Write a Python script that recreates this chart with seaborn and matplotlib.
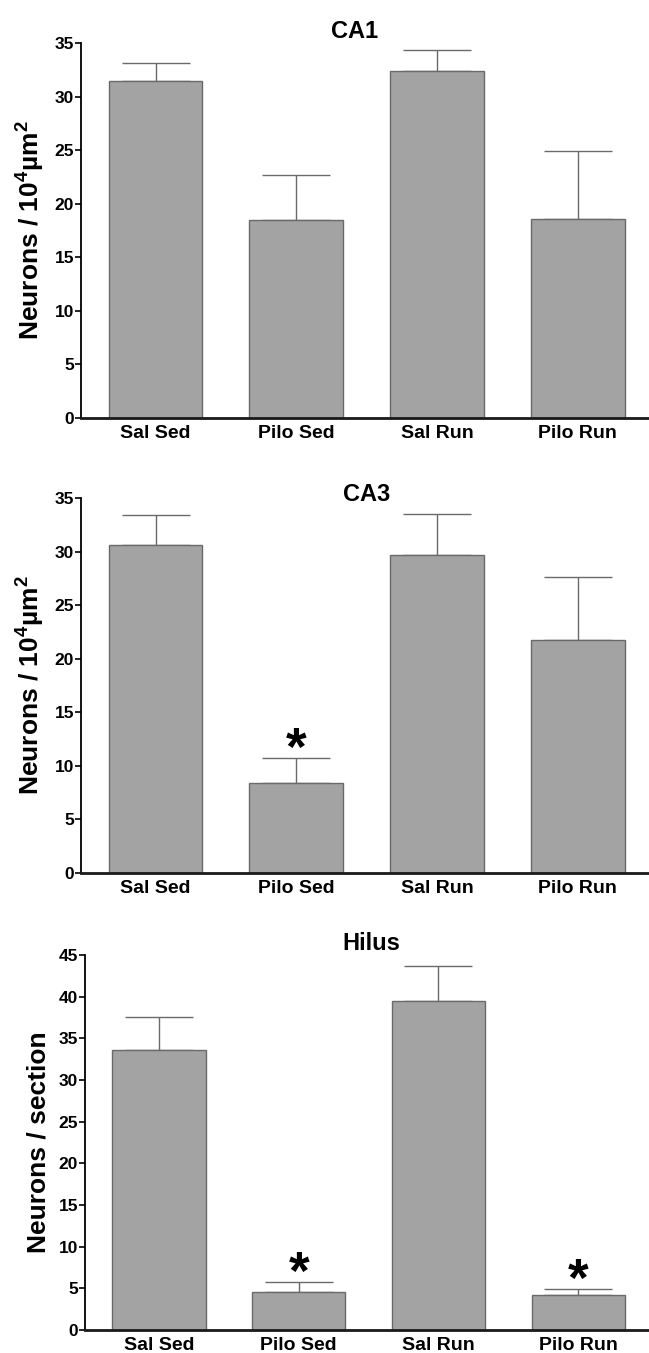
import matplotlib
matplotlib.use("Agg")
import matplotlib.pyplot as plt
import seaborn as sns
import pandas as pd
import numpy as np

# ---- data ----
groups = ["Sal Sed", "Pilo Sed", "Sal Run", "Pilo Run"]

ca1_mean = [31.5, 18.5, 32.4, 18.6]
ca1_sem = [1.7, 4.2, 2.0, 6.3]

ca3_mean = [30.6, 8.4, 29.7, 21.8]
ca3_sem = [2.8, 2.3, 3.8, 5.8]

hilus_mean = [33.6, 4.6, 39.5, 4.2]
hilus_sem = [4.0, 1.2, 4.2, 0.7]

ca1_sig = [False, False, False, False]
ca3_sig = [False, True, False, False]
hilus_sig = [False, True, False, True]

titles = ["CA1", "CA3", "Hilus"]
ylabels = ["Neurons / 10$^{\\mathbf{4}}$\u00b5m$^{\\mathbf{2}}$",
           "Neurons / 10$^{\\mathbf{4}}$\u00b5m$^{\\mathbf{2}}$",
           "Neurons / section"]
ymax = [35, 35, 45]

sns.set_style("white")
plt.rcParams['font.family'] = ['Liberation Sans', 'DejaVu Sans']
plt.rcParams['mathtext.fontset'] = 'custom'
plt.rcParams['mathtext.bf'] = 'Liberation Sans:bold'
plt.rcParams['mathtext.rm'] = 'Liberation Sans'
plt.rcParams['text.color'] = 'black'
plt.rcParams['axes.labelcolor'] = 'black'
plt.rcParams['xtick.color'] = 'black'
plt.rcParams['ytick.color'] = 'black'

fig = plt.figure(figsize=(6.49, 13.53), dpi=100)

positions = [
    [81/649, 1 - 417.7/1353, 567/649, 374.4/1353],
    [81/649, 1 - 872.7/1353, 567/649, 374.4/1353],
    [85/649, 1 - 1330/1353, 563/649, 375/1353],
]
title_pos = [(0.483, 1.013), (0.503, 0.993), (0.508, 1.013)]

panels = [(ca1_mean, ca1_sem, ca1_sig), (ca3_mean, ca3_sem, ca3_sig),
          (hilus_mean, hilus_sem, hilus_sig)]

bar_color = "#a3a3a3"
edge_color = "#6a6a6a"

for i, (means, sems, sig) in enumerate(panels):
    ax = fig.add_axes(positions[i])
    df = pd.DataFrame({"group": groups, "value": means})
    sns.barplot(data=df, x="group", y="value", order=groups, color=bar_color,
                saturation=1, width=0.667, errorbar=None, ax=ax,
                edgecolor=edge_color, linewidth=1.0, zorder=2)
    xs = np.arange(len(groups))
    ax.errorbar(xs, means, yerr=[np.zeros(len(sems)), sems], fmt='none',
                ecolor=edge_color, elinewidth=1.0, capsize=24.8,
                capthick=1.0, zorder=1)
    for x, m, s, flag in zip(xs, means, sems, sig):
        if flag:
            ax.annotate("*", xy=(x, m + s), xytext=(0, -5),
                        textcoords="offset points", ha="center",
                        va="baseline", fontsize=38, fontweight="bold",
                        color="black")
    ax.set_xlim(-0.53, 3.5)
    ax.set_ylim(0, ymax[i])
    ax.set_yticks(np.arange(0, ymax[i] + 1, 5))
    ax.set_xlabel("")
    ax.set_ylabel(ylabels[i], fontsize=19, fontweight="bold", labelpad=6,
                  color="black")
    ax.text(title_pos[i][0], title_pos[i][1], titles[i], transform=ax.transAxes,
            ha="center", va="baseline", fontsize=17, fontweight="bold",
            color="black")
    for side in ["top", "right"]:
        ax.spines[side].set_visible(False)
    ax.spines["left"].set_linewidth(1.3)
    ax.spines["left"].set_color("black")
    ax.spines["bottom"].set_linewidth(2.0)
    ax.spines["bottom"].set_color("#1a1a1a")
    ax.tick_params(axis="y", direction="out", length=4, width=1.2,
                   labelsize=12.5, pad=1, left=True, colors="black")
    ax.tick_params(axis="x", length=0, labelsize=14, pad=5, colors="black")
    for lab in ax.get_yticklabels() + ax.get_xticklabels():
        lab.set_fontweight("bold")

fig.savefig("out.png", dpi=100)
